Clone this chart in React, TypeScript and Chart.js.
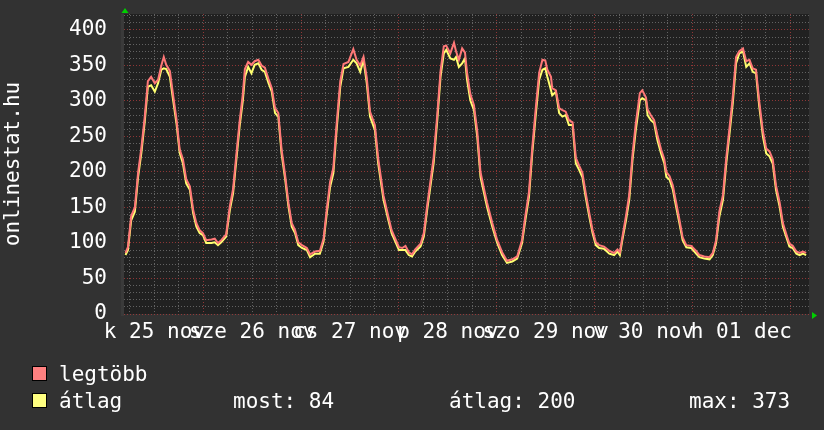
import { useEffect, useRef } from 'react';
import { Chart, registerables } from 'chart.js';

Chart.register(...registerables);

// hours since 25 nov 00:00
const hours = [
  4.9, 5.5, 6.3, 7.2, 8.0, 8.8, 9.6, 10.4, 11.2, 12.1,
  12.9, 13.7, 14.3, 14.9, 15.8, 16.6, 17.4, 18.2, 19.0, 19.8,
  20.7, 21.5, 22.3, 23.1, 23.9, 24.7, 26.0, 26.8, 27.6, 28.4,
  29.6, 30.5, 31.3, 32.1, 32.9, 33.7, 34.2, 35.0, 35.8, 36.6,
  37.5, 38.3, 39.1, 40.0, 40.8, 41.6, 42.4, 43.2, 44.1, 44.9,
  45.7, 46.5, 47.3, 48.2, 49.4, 50.2, 51.4, 52.6, 53.5, 54.3,
  55.1, 55.9, 56.7, 57.6, 58.4, 59.6, 60.8, 61.6, 62.5, 63.3,
  64.1, 64.9, 66.1, 66.9, 68.2, 69.4, 70.2, 71.1, 72.0, 72.8,
  73.6, 74.4, 75.2, 76.0, 77.3, 78.1, 78.9, 79.7, 80.5, 81.4,
  82.2, 83.0, 83.6, 84.6, 85.5, 86.0, 86.7, 87.5, 88.2, 88.7,
  89.5, 90.4, 91.2, 92.0, 92.8, 93.6, 94.9, 96.1, 97.3, 98.5,
  99.8, 101.0, 102.2, 103.0, 103.9, 104.7, 105.6, 106.4, 107.2, 107.9,
  108.4, 109.3, 109.6, 110.5, 111.3, 112.1, 112.9, 113.7, 114.6, 115.4,
  116.2, 117.0, 117.8, 118.7, 119.5, 120.3, 121.1, 122.3, 123.6, 124.8,
  125.6, 126.2, 126.8, 127.7, 128.5, 129.3, 130.1, 131.1, 131.7, 132.6,
  133.0, 133.8, 134.6, 135.4, 136.3, 137.1, 137.6, 138.4, 139.2, 140.0,
  140.8, 141.6, 142.5, 143.7, 144.9, 145.7, 146.9, 148.2, 149.0, 149.8,
  150.6, 151.5, 152.3, 153.1, 153.9, 154.7, 155.5, 156.4, 157.2, 158.0,
  158.8, 159.6, 160.4, 161.3, 162.1, 162.9, 163.7, 164.5, 165.4, 166.2,
  167.0, 167.8, 168.6, 169.5, 170.3, 171.1, 171.9,
];

const atlag = [
  83, 90, 132, 144, 193, 227, 269, 320, 322, 313,
  325, 344, 346, 345, 334, 301, 269, 227, 212, 184,
  175, 142, 123, 114, 111, 100, 100, 101, 97, 101,
  109, 146, 170, 217, 264, 301, 334, 348, 339, 351,
  353, 344, 341, 325, 313, 283, 278, 226, 189, 151,
  123, 114, 97, 93, 90, 80, 85, 85, 102, 142,
  179, 198, 259, 320, 346, 348, 358, 353, 341, 358,
  325, 278, 259, 212, 161, 132, 114, 102, 90, 90,
  90, 83, 81, 88, 95, 109, 146, 179, 212, 273,
  334, 367, 372, 360, 358, 362, 348, 353, 360, 330,
  301, 287, 250, 193, 172, 151, 123, 100, 83, 72,
  74, 78, 100, 132, 165, 226, 283, 330, 344, 346,
  334, 315, 308, 313, 283, 278, 280, 266, 266, 212,
  203, 193, 165, 137, 114, 97, 93, 92, 85, 83,
  88, 83, 104, 132, 161, 217, 259, 301, 304, 301,
  280, 273, 269, 245, 226, 212, 193, 189, 175, 151,
  128, 104, 94, 93, 85, 80, 78, 77, 83, 100,
  137, 161, 212, 254, 297, 353, 367, 370, 348, 353,
  341, 339, 292, 250, 226, 222, 212, 175, 151, 123,
  109, 95, 93, 85, 83, 85, 83,
];

const legtobb = [
  86, 94, 138, 150, 199, 234, 276, 328, 334, 325,
  330, 350, 362, 351, 342, 308, 275, 232, 218, 190,
  180, 147, 128, 118, 114, 104, 105, 106, 100, 104,
  112, 152, 176, 224, 271, 310, 345, 355, 351, 356,
  358, 350, 347, 331, 318, 290, 283, 232, 194, 156,
  128, 118, 101, 97, 93, 84, 88, 89, 106, 148,
  186, 206, 267, 328, 352, 355, 373, 358, 350, 362,
  333, 285, 266, 219, 167, 137, 118, 106, 94, 93,
  96, 87, 84, 91, 99, 114, 152, 186, 220, 281,
  342, 377, 378, 367, 382, 370, 358, 374, 368, 340,
  310, 294, 258, 200, 178, 157, 128, 104, 87, 75,
  77, 81, 104, 138, 172, 234, 292, 340, 358, 357,
  344, 334, 318, 315, 290, 287, 285, 273, 270, 220,
  209, 199, 171, 142, 118, 101, 97, 95, 89, 86,
  91, 87, 108, 138, 168, 225, 268, 311, 315, 305,
  288, 280, 273, 252, 232, 218, 200, 194, 181, 157,
  133, 108, 97, 96, 89, 83, 81, 80, 86, 104,
  144, 168, 220, 262, 306, 362, 370, 374, 356, 358,
  346, 344, 299, 257, 233, 229, 218, 181, 157, 128,
  113, 99, 96, 88, 86, 88, 86,
];

const dayLabels = ['k 25 nov', 'sze 26 nov', 'cs 27 nov', 'p 28 nov', 'szo 29 nov', 'v 30 nov', 'h 01 dec'];
const yTickValues = [0, 50, 100, 150, 200, 250, 300, 350, 400];
const seriesNames = ['legtöbb', 'átlag'];
const statLabels = ['most: 84', 'átlag: 200', 'max: 373'];
const yTitle = 'onlinestat.hu';

const X_MIN = 4.54;
const X_MAX = 172.6;
const Y_MAX = 422.5;

const FONT = '"DejaVu Sans Mono", monospace';
const BG = '#323232';
const PLOT_BG = '#212121';
const RED = '#ff7878';
const YEL = '#ffff70';
const RED_SW = '#ff8080';
const YEL_SW = '#ffff80';
const MINOR = 'rgba(120,120,120,0.75)';
const MAJOR = 'rgba(170,60,60,0.8)';

export default function App() {
  const ref = useRef<HTMLCanvasElement | null>(null);

  useEffect(() => {
    document.body.style.margin = '0';
    const canvas = ref.current;
    if (!canvas) return;

    const decor = {
      id: 'decor',
      beforeDraw(chart: any) {
        const { ctx, chartArea: a } = chart;
        ctx.save();
        ctx.fillStyle = BG;
        ctx.fillRect(0, 0, chart.width, chart.height);
        ctx.fillStyle = PLOT_BG;
        ctx.fillRect(a.left, a.top, a.right - a.left, a.bottom - a.top);
        ctx.fillStyle = '#3a3a3a';
        ctx.fillRect(a.left - 3, a.top, 3, a.bottom - a.top + 2);
        ctx.restore();
      },
      afterDraw(chart: any) {
        const { ctx, chartArea: a } = chart;
        ctx.save();
        // arrows
        ctx.fillStyle = '#00d000';
        ctx.beginPath();
        ctx.moveTo(a.left + 1, a.top - 6);
        ctx.lineTo(a.left - 2.5, a.top - 1);
        ctx.lineTo(a.left + 4.5, a.top - 1);
        ctx.closePath();
        ctx.fill();
        ctx.beginPath();
        ctx.moveTo(a.right + 8, a.bottom + 1.5);
        ctx.lineTo(a.right + 3, a.bottom - 2);
        ctx.lineTo(a.right + 3, a.bottom + 5);
        ctx.closePath();
        ctx.fill();

        // y title
        ctx.fillStyle = '#ffffff';
        ctx.font = `21px ${FONT}`;
        ctx.textAlign = 'center';
        ctx.textBaseline = 'alphabetic';
        ctx.translate(19, (a.top + a.bottom) / 2);
        ctx.rotate(-Math.PI / 2);
        ctx.fillText(yTitle, 0, 0);
        ctx.setTransform(1, 0, 0, 1, 0, 0);

        // legend
        ctx.textAlign = 'left';
        const rows = [381, 408];
        const sw = [RED_SW, YEL_SW];
        rows.forEach((b, i) => {
          ctx.fillStyle = sw[i];
          ctx.fillRect(32, b - 15, 15, 15);
          ctx.strokeStyle = '#000';
          ctx.lineWidth = 1;
          ctx.strokeRect(32.5, b - 14.5, 14, 14);
          ctx.fillStyle = '#ffffff';
          ctx.fillText(seriesNames[i], 59, b);
        });
        const sx = [233, 449, 689];
        statLabels.forEach((t, i) => ctx.fillText(t, sx[i], rows[1]));
        ctx.restore();
      },
    };

    const xTicks: number[] = [];
    for (let h = 6; h <= 168; h += 6) xTicks.push(h);
    const yTicks: number[] = [];
    for (let v = 0; v <= 420; v += 10) yTicks.push(v);

    const chart = new Chart(canvas, {
      type: 'line',
      data: {
        datasets: [
          {
            label: seriesNames[0],
            data: hours.map((h, i) => ({ x: h, y: legtobb[i] })),
            borderColor: RED,
            borderWidth: 2,
            pointRadius: 0,
            tension: 0,
          },
          {
            label: seriesNames[1],
            data: hours.map((h, i) => ({ x: h, y: atlag[i] })),
            borderColor: YEL,
            borderWidth: 2,
            pointRadius: 0,
            tension: 0,
          },
        ],
      },
      options: {
        animation: false,
        responsive: false,
        layout: { padding: { top: 14, right: 15, left: 0, bottom: 0 } },
        plugins: { legend: { display: false }, tooltip: { enabled: false }, title: { display: false } },
        scales: {
          x: {
            type: 'linear',
            min: X_MIN,
            max: X_MAX,
            afterBuildTicks: (s: any) => {
              s.ticks = xTicks.map((v) => ({ value: v }));
            },
            afterFit: (s: any) => {
              s.height = 116;
              s.paddingLeft = 0;
              s.paddingRight = 0;
              s.paddingTop = 0;
              s.paddingBottom = 0;
            },
            ticks: {
              autoSkip: false,
              maxRotation: 0,
              minRotation: 0,
              padding: 6,
              color: '#ffffff',
              font: { family: FONT, size: 21, lineHeight: 1.2 },
              callback: (v: any) => {
                const h = Number(v);
                if ((h - 12) % 24 === 0) return dayLabels[(h - 12) / 24];
                return '';
              },
            },
            grid: {
              drawTicks: false,
              lineWidth: 1,
              color: (c: any) => (c.tick && c.tick.value % 24 === 0 ? MAJOR : MINOR),
            },
            border: { display: false, dash: [1, 2] },
          },
          y: {
            min: 0,
            max: Y_MAX,
            afterBuildTicks: (s: any) => {
              s.ticks = yTicks.map((v) => ({ value: v }));
            },
            afterFit: (s: any) => {
              s.width = 124;
              s.paddingLeft = 0;
              s.paddingRight = 0;
              s.paddingTop = 0;
              s.paddingBottom = 0;
            },
            ticks: {
              autoSkip: false,
              padding: 17,
              color: '#ffffff',
              font: { family: FONT, size: 21, lineHeight: 1.2 },
              callback: (v: any) => (yTickValues.includes(Number(v)) ? String(v) : ''),
            },
            grid: {
              drawTicks: false,
              lineWidth: 1,
              color: (c: any) => (c.tick && c.tick.value % 50 === 0 ? MAJOR : MINOR),
            },
            border: { display: false, dash: [1, 2] },
          },
        },
      },
      plugins: [decor],
    } as any);

    return () => chart.destroy();
  }, []);

  return (
    <div style={{ width: 824, height: 430, background: BG }}>
      <canvas ref={ref} width={824} height={430} style={{ display: 'block' }} />
    </div>
  );
}
